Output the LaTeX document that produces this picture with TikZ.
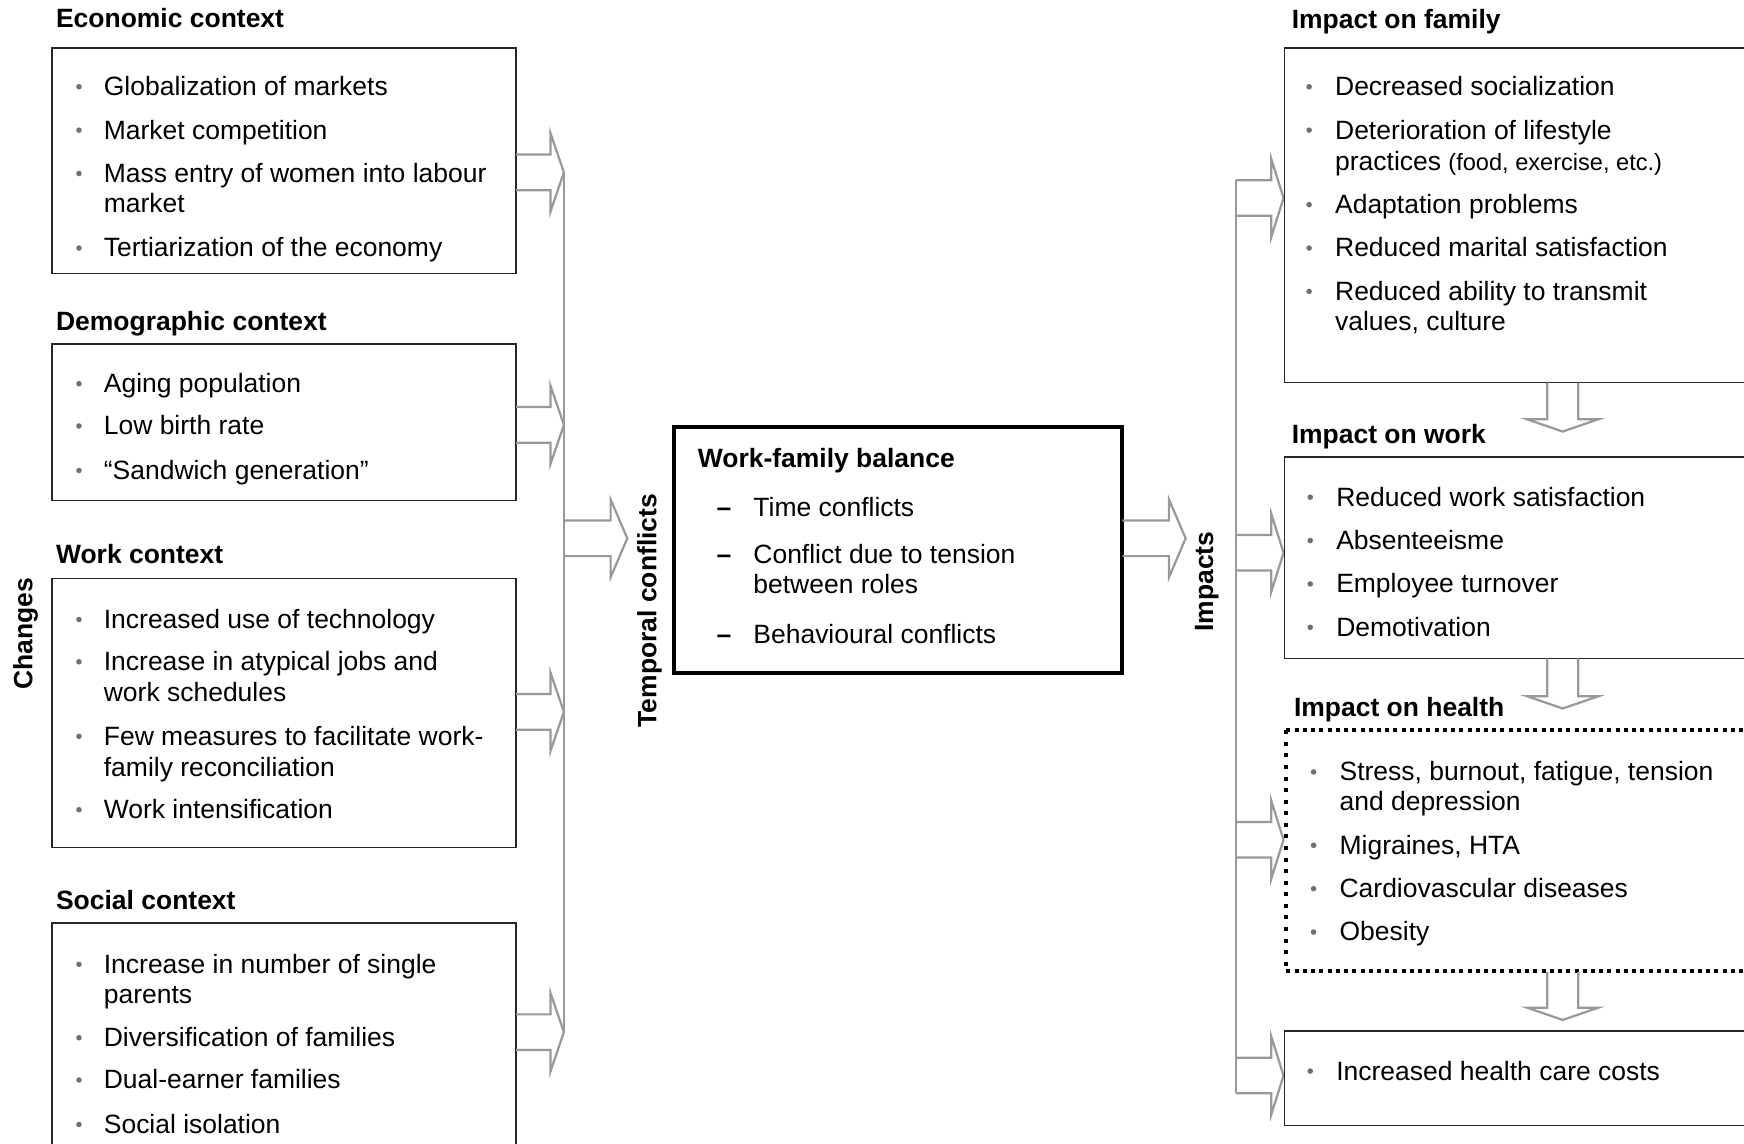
\documentclass[tikz,border=0pt]{standalone}
\usepackage{fontspec}
\setmainfont{Liberation Sans}
\usetikzlibrary{fit}
\definecolor{arrgray}{HTML}{999999}
\definecolor{bulgray}{HTML}{707070}
\definecolor{boxline}{HTML}{262626}
\tikzset{
 box/.style={draw=boxline, line width=0.75pt, inner sep=0pt},
 thickbox/.style={draw=black, line width=1.8pt, inner sep=0pt},
 dotline/.style={draw=black, line width=1.8pt},
 arr/.style={draw=arrgray, line width=1pt, line join=miter},
 bus/.style={draw=arrgray, line width=1pt},
 itxt/.style={anchor=base west, inner sep=0pt, font=\fontsize{11.9}{13}\selectfont},
 ttl/.style={anchor=base west, inner sep=0pt, font=\fontsize{11.9}{13}\selectfont\bfseries},
 vlab/.style={rotate=90, inner sep=0pt, font=\fontsize{11.9}{13}\selectfont\bfseries},
}
\newcommand\itm[5]{%
  \fill[bulgray] (#2,#4+1) circle (1.25pt);
  \node[itxt] (#1) at (#3,#4+9) {#5};}
\newcommand\cnt[4]{\node[itxt] (#1) at (#2,#3+9) {#4};}
\newcommand\dsh[3]{%
  \node[itxt,font=\fontsize{11.9}{13}\selectfont\bfseries] (#1d) at (644,#2+9) {–};
  \node[itxt] (#1) at (677,#2+9) {#3};}
% right arrow: x start, x tip, y centre, head length
\newcommand\rarr[4]{\draw[arr] (#1,#3-16) -- (#2-#4,#3-16) -- (#2-#4,#3-35) -- (#2,#3) -- (#2-#4,#3+35) -- (#2-#4,#3+16) -- (#1,#3+16);}
% down arrow: x centre, y top, y tip
\newcommand\darr[3]{\draw[arr] (#1-14,#2) -- (#1-14,#3-11) -- (#1-32,#3-11) -- (#1,#3) -- (#1+32,#3-11) -- (#1+14,#3-11) -- (#1+14,#2);}
\begin{document}
\begin{tikzpicture}[x=0.5pt,y=-0.5pt]
\clip (0,0) rectangle (1568,1028);
\fill[white] (0,0) rectangle (1568,1028);

% ---------- left column ----------
\node[ttl] (tEco) at (50,25) {Economic context};
\node[box, fit={(47,43)(464,246)}] (eco) {};
\itm{e1}{71}{93}{77}{Globalization of markets}
\itm{e2}{71}{93}{116}{Market competition}
\itm{e3}{71}{93}{155}{Mass entry of women into labour}
\cnt{e3b}{93}{182}{market}
\itm{e4}{71}{93}{222}{Tertiarization of the economy}

\node[ttl] (tDem) at (50,297) {Demographic context};
\node[box, fit={(47,309)(464,450)}] (dem) {};
\itm{d1}{71}{93}{344}{Aging population}
\itm{d2}{71}{93}{382}{Low birth rate}
\itm{d3}{71}{93}{422}{“Sandwich generation”}

\node[ttl] (tWrk) at (50,507) {Work context};
\node[box, fit={(47,520)(464,762)}] (wrk) {};
\itm{w1}{71}{93}{556}{Increased use of technology}
\itm{w2}{71}{93}{594}{Increase in atypical jobs and}
\cnt{w2b}{93}{622}{work schedules}
\itm{w3}{71}{93}{661}{Few measures to facilitate work-}
\cnt{w3b}{93}{689}{family reconciliation}
\itm{w4}{71}{93}{727}{Work intensification}

\node[ttl] (tSoc) at (50,818) {Social context};
\node[box, fit={(47,830)(464,1045)}] (soc) {};
\itm{s1}{71}{93}{866}{Increase in number of single}
\cnt{s1b}{93}{893}{parents}
\itm{s2}{71}{93}{932}{Diversification of families}
\itm{s3}{71}{93}{970}{Dual-earner families}
\itm{s4}{71}{93}{1010}{Social isolation}

\node[vlab] (chg) at (23,570) {Changes};

% left arrows and bus
\rarr{464}{507}{155}{12}
\rarr{464}{507}{382}{12}
\rarr{464}{507}{640}{12}
\rarr{464}{507}{928}{12}
\coordinate (lbTop) at (507,155);
\coordinate (lbBot) at (507,928);
\draw[bus] (lbTop) -- (lbBot);
\rarr{507}{564}{484}{15}

\node[vlab] (temp) at (584,549) {Temporal conflicts};

% ---------- centre ----------
\node[thickbox, fit={(606,384)(1009,605)}] (wfb) {};
\node[ttl] (tWfb) at (627,420) {Work-family balance};
\dsh{c1}{455}{Time conflicts}
\dsh{c2}{498}{Conflict due to tension}
\cnt{c2b}{677}{525}{between roles}
\dsh{c3}{570}{Behavioural conflicts}

\rarr{1009}{1066}{484}{15}
\node[vlab] (imp) at (1085,523) {Impacts};

% ---------- right column ----------
\coordinate (rbTop) at (1111,162);
\coordinate (rbBot) at (1111,983);
\draw[bus] (rbTop) -- (rbBot);
\rarr{1111}{1154}{178}{11}
\rarr{1111}{1154}{497}{11}
\rarr{1111}{1154}{755}{11}
\rarr{1111}{1154}{967}{11}

\node[ttl] (tFam) at (1161,26) {Impact on family};
\node[box, fit={(1155,43)(1590,344)}] (fam) {};
\itm{f1}{1177}{1200}{77}{Decreased socialization}
\itm{f2}{1177}{1200}{116}{Deterioration of lifestyle}
\cnt{f2b}{1200}{144}{practices {\fontsize{10.6}{12}\selectfont(food, exercise, etc.)}}
\itm{f3}{1177}{1200}{183}{Adaptation problems}
\itm{f4}{1177}{1200}{222}{Reduced marital satisfaction}
\itm{f5}{1177}{1200}{261}{Reduced ability to transmit}
\cnt{f5b}{1200}{288}{values, culture}

\darr{1405}{344}{388}

\node[ttl] (tWk) at (1161,399) {Impact on work};
\node[box, fit={(1155,411)(1590,592)}] (wk) {};
\itm{k1}{1178}{1201}{446}{Reduced work satisfaction}
\itm{k2}{1178}{1201}{485}{Absenteeisme}
\itm{k3}{1178}{1201}{524}{Employee turnover}
\itm{k4}{1178}{1201}{563}{Demotivation}

\darr{1405}{592}{637}

\node[ttl] (tHl) at (1163,644) {Impact on health};
\node[inner sep=0pt, fit={(1157,657)(1600,873)}] (hl) {};
\draw[dotline, dash pattern=on 1.8pt off 1.9pt] (hl.north west) -- (hl.north east);
\draw[dotline, dash pattern=on 1.8pt off 1.9pt] (hl.south west) -- (hl.south east);
\draw[dotline, dash pattern=on 1.8pt off 3.4pt] (hl.north west) -- (hl.south west);
\itm{h1}{1181}{1204}{693}{Stress, burnout, fatigue, tension}
\cnt{h1b}{1204}{720}{and depression}
\itm{h2}{1181}{1204}{759}{Migraines, HTA}
\itm{h3}{1181}{1204}{798}{Cardiovascular diseases}
\itm{h4}{1181}{1204}{837}{Obesity}

\darr{1405}{874}{917}

\node[box, fit={(1155,927)(1590,1012)}] (cst) {};
\itm{q1}{1178}{1201}{962}{Increased health care costs}
\end{tikzpicture}
\end{document}
